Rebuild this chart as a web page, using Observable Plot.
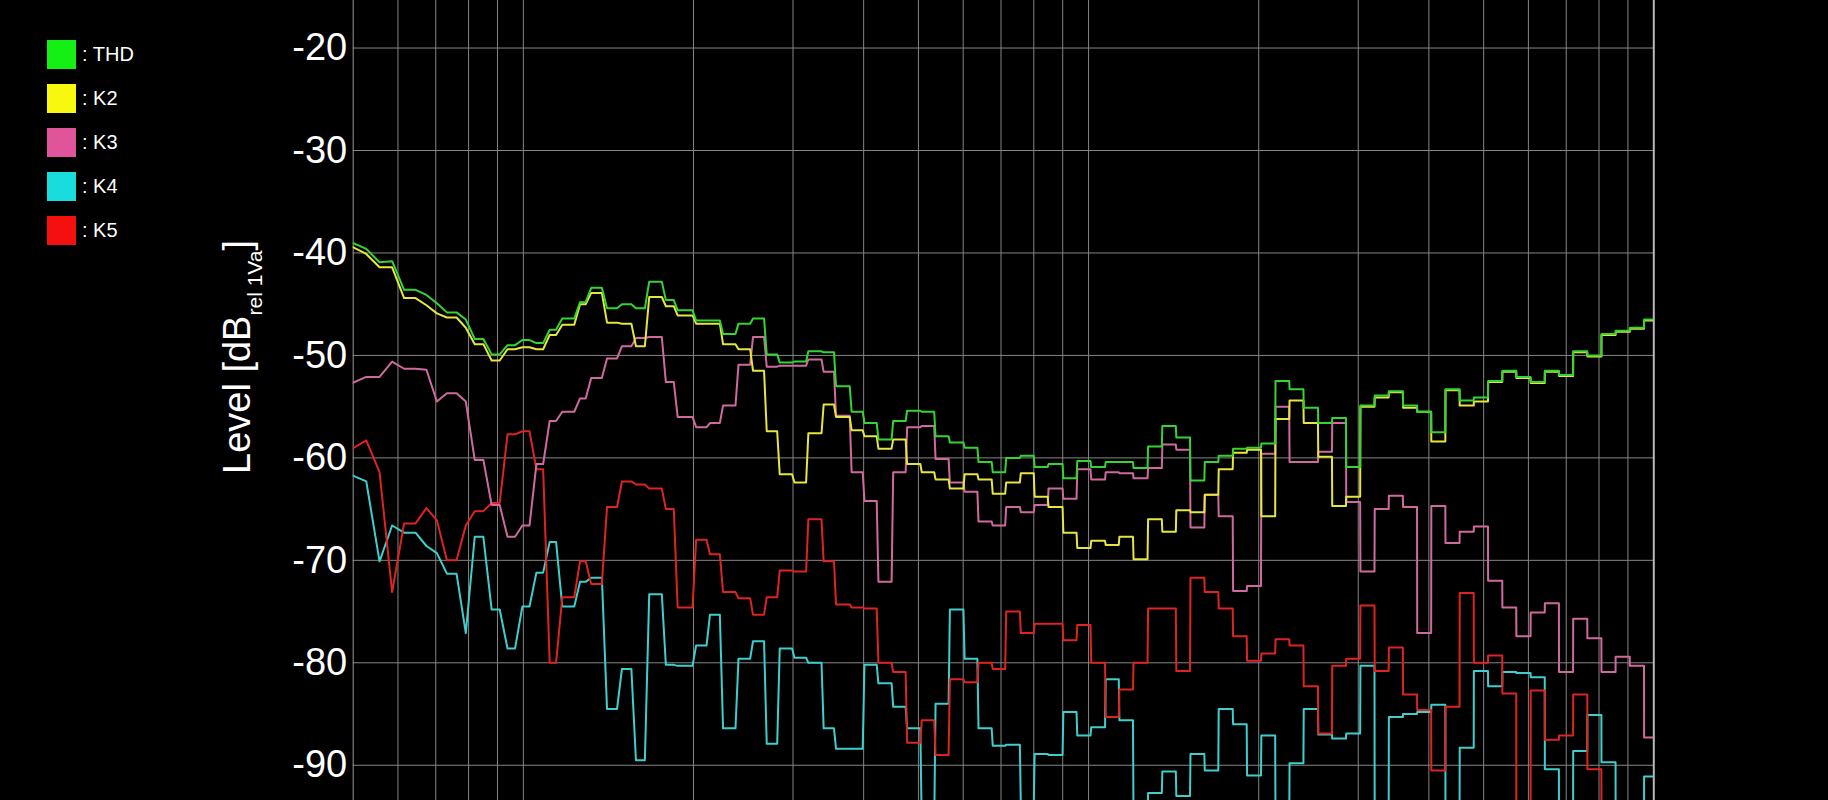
<!DOCTYPE html>
<html>
<head>
<meta charset="utf-8">
<script src="https://cdn.jsdelivr.net/npm/d3@7"></script>
<script src="https://cdn.jsdelivr.net/npm/@observablehq/plot@0.6"></script>
<style>
  html, body { margin: 0; padding: 0; background: #000; }
  #wrap { position: relative; width: 1828px; height: 800px; background: #000; overflow: hidden;
          font-family: "Liberation Sans", Arial, sans-serif; }
  #legend { position: absolute; left: 0; top: 0; }
  .item { position: absolute; left: 47px; height: 29px; display: flex; align-items: center; white-space: nowrap; }
  .sw { width: 29px; height: 29px; margin-right: 6px; }
  .lbl { color: #fff; font-size: 20px; }
  #chart svg { display: block; }
</style>
</head>
<body>
<div id="wrap"><div id="chart"></div><div id="legend"></div></div>
<script>
// ---- series names and colours
const seriesNames = ["THD", "K2", "K3", "K4", "K5"];
const legendColors = ["#14f014", "#f8f80e", "#e0559a", "#19dcdc", "#f51010"];
const lineColors   = ["#33d433", "#e6e63e", "#cf6a9e", "#3ecece", "#de2323"];

// ---- 1/12-octave band start frequencies (Hz)
const bandStart = [
  23.01, 24.38, 25.83, 27.37, 29.00, 30.72, 32.55, 34.48, 36.53, 38.70,
  41.00, 43.44, 46.02, 48.77, 51.67, 54.73, 57.99, 61.56, 65.29, 69.24,
  73.44, 77.88, 82.60, 87.95, 93.65, 99.71, 106.2, 112.5, 119.2, 126.3,
  133.7, 141.7, 150.2, 159.1, 168.6, 178.6, 189.2, 200.4, 212.3, 224.9,
  238.4, 252.5, 267.5, 283.4, 300.3, 318.2, 337.0, 357.1, 378.3, 400.9,
  424.6, 449.9, 476.6, 505.0, 535.0, 566.8, 600.5, 636.3, 674.1, 714.2,
  756.7, 801.6, 849.3, 899.8, 953.3, 1010, 1070, 1133, 1201, 1273,
  1348, 1428, 1513, 1603, 1699, 1800, 1907, 2020, 2140, 2267,
  2402, 2545, 2697, 2856, 3027, 3207, 3398, 3600, 3814, 4040,
  4280, 4535, 4805
];

// ---- band levels (dB rel 1Va), one value per band
const thd = [
  -38.9, -39.0, -39.6, -40.9, -40.8, -43.6, -44.1, -44.9, -45.8, -46.5,
  -48.4, -49.9, -49.0, -48.5, -48.8, -47.5, -46.4, -44.8, -43.4, -45.4,
  -45.0, -45.4, -42.8, -44.6, -45.6, -46.6, -46.6, -47.9, -46.9, -46.4,
  -49.9, -50.7, -50.6, -49.6, -49.7, -53.0, -55.5, -56.6, -58.2, -56.4,
  -55.4, -55.5, -57.9, -58.5, -59.0, -60.4, -61.4, -60.0, -59.8, -60.9,
  -60.6, -62.0, -60.3, -60.9, -60.4, -60.4, -61.0, -58.9, -56.9, -58.0,
  -62.2, -60.4, -59.8, -59.1, -59.0, -58.6, -52.5, -53.3, -55.1, -56.6,
  -56.1, -60.9, -54.9, -53.9, -53.5, -54.9, -55.5, -57.5, -53.3, -54.4,
  -54.1, -52.5, -51.5, -52.1, -52.6, -51.5, -51.9, -49.6, -50.0, -47.9,
  -47.6, -47.3, -46.5
];
const k2 = [
  -39.3, -39.4, -40.1, -41.4, -41.4, -44.4, -45.1, -45.9, -46.3, -47.3,
  -48.9, -50.5, -49.4, -49.2, -49.4, -48.0, -47.0, -45.0, -43.9, -46.8,
  -46.9, -49.1, -44.3, -45.2, -46.1, -46.9, -46.9, -48.9, -49.4, -51.5,
  -57.4, -61.6, -62.4, -57.6, -54.8, -56.0, -57.3, -57.9, -59.1, -58.2,
  -60.6, -61.4, -62.1, -63.0, -61.6, -62.1, -63.5, -62.4, -61.5, -63.8,
  -64.8, -67.3, -68.8, -68.1, -68.5, -67.7, -69.9, -66.0, -67.2, -65.1,
  -65.3, -63.6, -61.1, -59.5, -59.2, -65.7, -56.2, -54.4, -56.6, -59.9,
  -64.7, -63.8, -55.0, -54.1, -53.6, -55.1, -55.5, -58.4, -53.4, -54.9,
  -54.5, -52.6, -51.6, -52.2, -52.7, -51.6, -52.0, -49.7, -50.1, -48.0,
  -47.7, -47.4, -46.6
];
const k3 = [
  -52.9, -52.7, -52.1, -52.1, -50.6, -51.3, -51.4, -54.5, -53.7, -54.5,
  -60.2, -64.6, -67.7, -66.6, -60.6, -56.4, -55.5, -54.2, -52.2, -50.3,
  -49.1, -48.3, -48.2, -52.6, -56.0, -57.0, -56.6, -54.9, -50.9, -48.2,
  -51.1, -51.0, -51.0, -50.4, -51.6, -55.9, -61.4, -64.2, -72.1, -61.4,
  -57.0, -56.9, -60.1, -62.4, -63.3, -66.2, -66.6, -64.8, -65.3, -64.6,
  -63.0, -64.0, -61.1, -62.1, -61.4, -61.5, -62.0, -61.0, -58.7, -59.2,
  -66.8, -63.6, -65.7, -73.0, -72.5, -59.6, -55.0, -60.4, -60.4, -59.4,
  -56.6, -64.3, -71.1, -65.0, -63.7, -64.8, -77.1, -64.7, -68.3, -67.2,
  -66.7, -72.0, -74.6, -77.4, -75.1, -74.2, -80.9, -75.7, -77.6, -80.9,
  -79.4, -80.3, -87.3
];
const k4 = [
  -61.5, -61.7, -62.3, -70.1, -66.6, -67.3, -68.6, -69.3, -71.3, -77.1,
  -67.7, -74.8, -78.6, -74.5, -71.2, -68.2, -74.5, -72.1, -71.7, -84.5,
  -80.6, -89.5, -73.3, -80.2, -80.3, -78.3, -75.3, -86.4, -79.6, -77.9,
  -87.9, -78.6, -79.5, -80.0, -86.4, -88.4, -88.4, -80.2, -82.0, -84.3,
  -86.4, -96.0, -84.0, -74.8, -79.6, -86.4, -88.1, -88.0, -94.0, -88.9,
  -89.0, -84.8, -87.1, -86.3, -81.6, -85.6, -96.0, -92.7, -90.6, -93.0,
  -88.9, -90.5, -84.5, -86.0, -91.0, -87.1, -96.0, -89.8, -84.5, -87.0,
  -87.4, -86.9, -80.3, -96.0, -85.3, -85.0, -84.8, -84.1, -96.0, -88.3,
  -80.8, -82.3, -80.9, -81.0, -81.4, -90.4, -96.0, -88.6, -85.1, -89.7,
  -96.0, -96.0, -91.1
];
const k5 = [
  -59.5, -59.1, -58.3, -61.4, -73.1, -66.4, -64.9, -66.1, -70.0, -66.6,
  -65.2, -64.4, -57.7, -57.4, -61.1, -80.0, -73.6, -70.1, -72.3, -64.8,
  -62.3, -62.6, -63.0, -65.0, -74.6, -68.0, -69.4, -73.1, -73.7, -75.3,
  -73.6, -71.0, -71.1, -66.0, -70.1, -74.3, -74.6, -74.7, -80.0, -80.9,
  -87.8, -85.6, -89.0, -81.6, -81.9, -80.0, -80.6, -75.0, -77.1, -76.2,
  -76.2, -77.8, -76.3, -80.0, -85.3, -82.6, -80.0, -74.7, -74.7, -80.8,
  -71.7, -73.1, -74.7, -77.4, -79.8, -79.1, -77.7, -78.3, -82.3, -86.9,
  -80.3, -79.6, -74.4, -80.8, -78.5, -83.1, -84.6, -90.5, -84.3, -73.2,
  -80.0, -79.3, -83.0, -96.0, -82.7, -87.5, -87.1, -83.1, -90.4, -96.0,
  -96.0, -96.0, -96.0
];

// ---- axis ticks / grid
const yTicks = [-90, -80, -70, -60, -50, -40, -30, -20];
const xGrid = [30, 35, 40, 45, 50, 100, 150, 200, 250, 300, 350, 400, 450, 500,
               1000, 1500, 2000, 2500, 3000, 3500, 4000, 4500];
const xDomain = [25, 5000];
const yDomain = [-93.44, -15.36];

// ---- FFT bin resolution: each bin shows the level of the band containing it
const BIN_HZ = 48000 / 32768;
function buildPoints(values) {
  const pts = [];
  for (let i = 0; i < bandStart.length; i++) {
    const lo = bandStart[i];
    const hi = i + 1 < bandStart.length ? bandStart[i + 1] : xDomain[1] + 1e-6;
    const first = Math.ceil(lo / BIN_HZ), last = Math.ceil(hi / BIN_HZ) - 1;
    if (last < first) continue;
    pts.push({f: first * BIN_HZ, v: values[i]});
    if (last > first) pts.push({f: last * BIN_HZ, v: values[i]});
  }
  return pts;
}
const seriesValues = [thd, k2, k3, k4, k5];
const drawOrder = [3, 4, 2, 1, 0];

const gridColor = "#858585";
const marks = [
  Plot.ruleX(xGrid, {stroke: gridColor, strokeWidth: 1}),
  Plot.ruleY(yTicks, {stroke: gridColor, strokeWidth: 1}),
  Plot.ruleX([xDomain[0]], {stroke: "#9a9a9a", strokeWidth: 1}),
  Plot.ruleX([xDomain[1]], {stroke: "#b8b8b8", strokeWidth: 2})
];
for (const i of drawOrder) {
  marks.push(Plot.line(buildPoints(seriesValues[i]), {
    x: "f", y: "v", stroke: lineColors[i], strokeWidth: 2, clip: true
  }));
}

const chart = Plot.plot({
  width: 1828,
  height: 800,
  marginLeft: 352.7,
  marginRight: 174.7,
  marginTop: 0,
  marginBottom: 0,
  style: {background: "#000", color: "#fff", fontSize: "38px",
          fontFamily: "'Liberation Sans', Arial, sans-serif"},
  x: {type: "log", domain: xDomain, axis: null},
  y: {domain: yDomain, ticks: yTicks, tickSize: 0, tickPadding: 6,
      tickFormat: d => String(d), label: null, line: false},
  marks
});
document.getElementById("chart").appendChild(chart);

// ---- y axis title with subscript
const svg = d3.select(chart);
const title = svg.append("text")
  .attr("transform", "translate(250,357) rotate(-90)")
  .attr("text-anchor", "middle")
  .attr("fill", "#fff")
  .style("font-family", "'Liberation Sans', Arial, sans-serif")
  .style("font-size", "38px");
title.append("tspan").text("Level [dB");
title.append("tspan").attr("dy", 12).style("font-size", "21px").text("rel 1Va");
title.append("tspan").attr("dy", -12).text("]");

// ---- legend
const legend = document.getElementById("legend");
seriesNames.forEach((name, i) => {
  const item = document.createElement("div");
  item.className = "item";
  item.style.top = (39.5 + i * 44.2) + "px";
  const sw = document.createElement("div");
  sw.className = "sw";
  sw.style.background = legendColors[i];
  const lbl = document.createElement("span");
  lbl.className = "lbl";
  lbl.textContent = ": " + name;
  item.appendChild(sw);
  item.appendChild(lbl);
  legend.appendChild(item);
});
</script>
</body>
</html>
